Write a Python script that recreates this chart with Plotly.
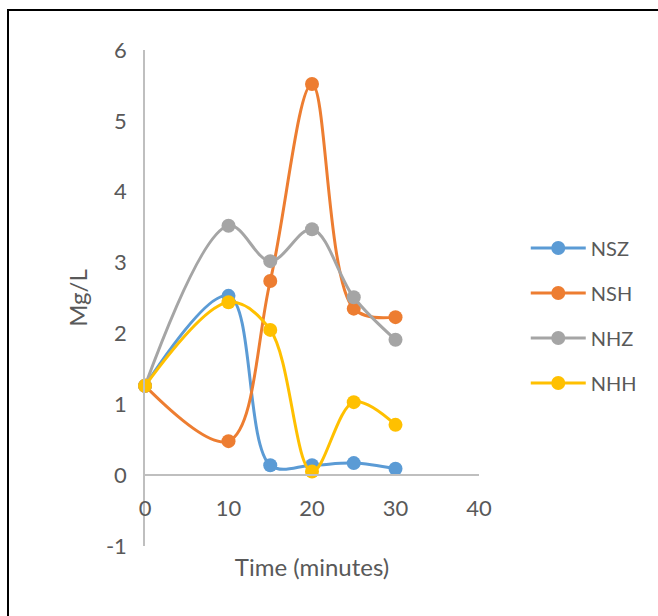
import plotly.graph_objects as go

time_min = [0, 10, 15, 20, 25, 30]
nsz = [1.26, 2.53, 0.14, 0.14, 0.17, 0.09]
nsh = [1.26, 0.48, 2.74, 5.52, 2.35, 2.23]
nhz = [1.26, 3.52, 3.02, 3.47, 2.51, 1.91]
nhh = [1.26, 2.44, 2.05, 0.05, 1.03, 0.71]

series_names = ["NSZ", "NSH", "NHZ", "NHH"]
series_values = [nsz, nsh, nhz, nhh]
colors = ["#5B9BD5", "#ED7D31", "#A5A5A5", "#FFC000"]

x_ticks = [0, 10, 20, 30, 40]
y_ticks = [-1, 0, 1, 2, 3, 4, 5, 6]
y_tick_text = ["-1", "0", "1", "2", "3", "4", "5", "6"]

FONT = "Lato"
TXT = "#595959"
AX = "#BFBFBF"

fig = go.Figure()
for i, (name, vals, col) in enumerate(zip(series_names, series_values, colors)):
    fig.add_trace(go.Scatter(
        x=time_min, y=vals, name=name, mode="lines+markers",
        line=dict(color=col, width=3, shape="spline", smoothing=1),
        marker=dict(color=col, size=14),
        legendgroup=f"g{i}", cliponaxis=False,
    ))

fig.update_layout(
    width=658, height=616,
    margin=dict(l=145, r=179, t=50, b=70),
    paper_bgcolor="white", plot_bgcolor="white",
    font=dict(family=FONT, size=22, color=TXT),
    showlegend=True,
    legend=dict(x=1.14, xanchor="left", y=0.64, yanchor="top",
                traceorder="grouped", tracegroupgap=16,
                itemwidth=55, font=dict(size=20, color=TXT),
                bgcolor="rgba(0,0,0,0)"),
    xaxis=dict(range=[0, 40], tickvals=x_ticks, showgrid=False, zeroline=False,
               showline=True, linecolor=AX, linewidth=1.5,
               anchor="free", position=1/7, ticks="",
               ticklabelstandoff=14, tickfont=dict(size=22, color=TXT),
               title=dict(text="Time (minutes)", standoff=38,
                          font=dict(size=24, color=TXT))),
    yaxis=dict(range=[-1, 6], tickvals=y_ticks, ticktext=y_tick_text,
               showgrid=False, zeroline=False,
               showline=True, linecolor=AX, linewidth=1.5, ticks="",
               ticklabelstandoff=12, tickfont=dict(size=22, color=TXT),
               title=dict(text="Mg/L", standoff=12,
                          font=dict(size=24, color=TXT))),
)

fig.add_shape(type="rect", xref="paper", yref="paper",
              x0=(8 - 145) / 334, x1=(662 - 145) / 334,
              y0=(546 - 622) / 496, y1=(546 - 10) / 496,
              line=dict(color="black", width=2), fillcolor="rgba(0,0,0,0)",
              layer="below")

fig.write_html("out.html")
